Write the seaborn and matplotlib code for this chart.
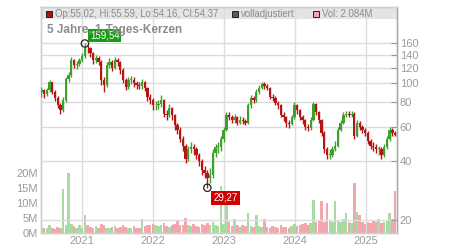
import numpy as np
import pandas as pd
import matplotlib
matplotlib.use("Agg")
import matplotlib.pyplot as plt
import matplotlib.dates as mdates
from matplotlib.patches import Rectangle
from matplotlib.ticker import NullLocator, FixedLocator, FixedFormatter
import seaborn as sns

# ---------------- data (bi-weekly candles) ----------------
start_date = "2020-06-05"
first_open = 90.0
closes = [
    92, 88, 92, 101, 90, 84, 77, 73, 82, 105,
    110, 131, 124, 125, 131, 137, 152, 151, 143, 131,
    134, 129, 104, 98, 124, 128, 120, 132, 128, 117,
    104, 96, 104, 104, 100, 98, 97, 101, 95, 85,
    82, 77, 77, 78, 82, 70, 69, 75, 69, 61,
    58, 52, 48, 41, 46, 47, 46, 43, 40, 36,
    35, 33, 34, 44, 47, 47, 52, 58, 69, 67,
    65, 67, 63, 65, 64, 63, 77, 84, 82, 90,
    95, 99, 97, 95, 85, 84, 79, 77, 69, 67,
    63, 62, 67, 77, 73, 67, 65, 60, 59, 65,
    78, 71, 65, 56, 46, 43, 43, 46, 48, 58,
    63, 69, 70, 69, 70, 54, 63, 60, 58, 56,
    51, 48, 47, 46, 46, 43, 47, 52, 58, 56,
    54.37,
]
highs = [
    96, 94, 95, 104, 102, 92, 86, 79, 85, 108,
    114, 136, 133, 130, 135, 142, 159.54, 157, 154, 145,
    139, 137, 131, 108, 128, 134, 131, 136, 135, 130,
    119, 106, 108, 109, 107, 103, 101, 105, 103, 96,
    88, 84, 81, 82, 87, 83, 73, 78, 76, 70,
    63, 60, 54, 49, 48, 50, 49, 47, 44, 41,
    38, 36, 37, 46, 49, 50, 54, 60, 71, 71,
    69, 70, 68, 68, 67, 66, 79, 87, 86, 93,
    98, 102, 101, 99, 96, 88, 86, 81, 78, 71,
    68, 65, 69, 80, 78, 74, 69, 66, 62, 67,
    80, 79, 72, 66, 57, 47, 46, 48, 51, 60,
    65, 71, 72, 72, 72, 71, 65, 64, 61, 59,
    57, 52, 50, 49, 48, 47, 49, 54, 60, 59,
    57,
]
lows = [
    85, 84, 86, 90, 88, 81, 75, 70, 71, 80,
    102, 108, 119, 118, 122, 128, 134, 143, 136, 125,
    127, 124, 98, 90, 96, 120, 116, 118, 122, 112,
    100, 92, 94, 99, 96, 94, 93, 94, 91, 81,
    78, 73, 73, 74, 76, 67, 65, 67, 65, 58,
    55, 50, 45, 39, 40, 44, 43, 41, 38, 34,
    33, 29.27, 31, 33, 42, 44, 45, 50, 57, 65,
    63, 63, 61, 62, 62, 61, 62, 75, 79, 80,
    88, 93, 94, 92, 83, 81, 77, 74, 67, 64,
    60, 59, 61, 66, 70, 65, 62, 58, 57, 58,
    64, 69, 63, 54, 44, 41, 41, 42, 45, 47,
    57, 62, 67, 67, 67, 52, 53, 58, 56, 54,
    49, 46, 45, 44, 43, 41, 42, 46, 51, 54,
    53.5,
]
volumes_m = [
    2.0, 1.5, 1.8, 2.5, 1.6, 1.4, 2.0, 1.8, 14.5, 2.5,
    20.0, 3.0, 2.2, 1.8, 2.5, 1.6, 6.0, 2.8, 2.0, 1.7,
    2.2, 1.5, 3.0, 2.6, 1.8, 1.5, 2.0, 2.4, 1.6, 1.9,
    2.5, 2.0, 1.7, 1.5, 2.2, 1.8, 1.6, 4.7, 2.3, 2.6,
    2.8, 3.0, 2.5, 2.2, 2.7, 3.2, 2.4, 2.0, 2.6, 3.0,
    4.0, 2.5, 2.8, 5.0, 2.6, 2.2, 2.9, 2.4, 2.0, 3.0,
    2.5, 3.2, 2.8, 3.5, 2.6, 2.4, 15.5, 3.0, 12.0, 3.5,
    2.4, 4.5, 2.8, 2.0, 2.5, 2.2, 6.5, 2.4, 2.0, 6.0,
    2.3, 1.9, 4.5, 2.0, 1.8, 2.2, 2.0, 1.7, 2.5, 2.1,
    2.0, 1.8, 2.4, 3.0, 2.2, 2.6, 3.0, 3.4, 2.8, 3.2,
    11.0, 3.5, 4.0, 10.5, 3.6, 10.0, 4.2, 3.8, 10.5, 4.0,
    3.5, 4.5, 6.5, 3.8, 3.2, 16.7, 7.0, 6.0, 3.5, 3.0,
    3.8, 3.2, 4.0, 3.5, 4.5, 3.2, 3.8, 4.0, 6.5, 4.5,
    14.0,
]
high_point = ("2021-01-15", 159.54, "159,54")
low_point = ("2022-10-07", 29.27, "29,27")
price_ticks = [20, 40, 60, 80, 100, 120, 140, 160]
vol_ticks = [0, 5, 10, 15, 20]
title = "5 Jahre, 1-Tages-Kerzen"
legend_items = ["Op:55.02, Hi:55.59, Lo:54.16, Cl:54.37", "volladjustiert", "Vol: 2.084M"]

# ---------------- frame ----------------
dates = pd.date_range(start_date, periods=len(closes), freq="14D")
opens = [first_open] + closes[:-1]
df = pd.DataFrame({"date": dates, "open": opens, "close": closes,
                   "high": highs, "low": lows, "vol": volumes_m})
df["up"] = df["close"] >= df["open"]
df["lo"] = df[["open", "close"]].min(axis=1)
df["hi"] = df[["open", "close"]].max(axis=1)

sns.set_theme(style="white")
plt.rcParams["font.family"] = ["Liberation Sans", "DejaVu Sans"]

W, H = 450, 250
fig = plt.figure(figsize=(W / 100, H / 100), dpi=100)
ax = fig.add_axes([41 / W, 17 / H, 356 / W, 226 / H])
ax.set_facecolor("white")

GREEN = "#3f9f2c"
RED = "#b81414"
VGREEN = "#a8dba0"
VRED = "#f2a6ad"
GRID = "#dcdcdc"
TXT = "#9a9a9a"

# header band
ax.add_patch(Rectangle((0, (233 - 19) / 226), 1, 1 - (233 - 19) / 226, transform=ax.transAxes,
                       fc="#e4e4e4", ec="none", zorder=0.1))

# volume bars
vcol = [VGREEN if u else VRED for u in df["up"]]
ax.bar(df["date"], df["vol"], width=pd.Timedelta(days=13), color=vcol, linewidth=0, zorder=1)
ax.set_ylim(0, 75.3)
ax.yaxis.set_major_locator(FixedLocator(vol_ticks))
ax.yaxis.set_major_formatter(FixedFormatter([f"{v}M" for v in vol_ticks]))
ax.tick_params(axis="y", length=0, labelcolor=TXT, labelsize=8, pad=2.5)

ax.set_xlim(pd.Timestamp("2020-06-03"), pd.Timestamp("2025-06-09"))
ax.xaxis.set_major_locator(mdates.YearLocator())
ax.xaxis.set_major_formatter(mdates.DateFormatter("%Y"))
ax.tick_params(axis="x", length=0, labelcolor=TXT, labelsize=8, pad=2.5)
ax.grid(axis="x", color=GRID, lw=1)
ax.set_axisbelow(True)

# price candles
ax2 = ax.twinx()
ax2.set_yscale("log")
ax2.set_ylim(17.2, 245)
ax2.grid(axis="y", color=GRID, lw=1, zorder=0)
ax2.set_axisbelow(True)
ccol = [GREEN if u else RED for u in df["up"]]
ax2.vlines(df["date"], df["low"], df["high"], colors=ccol, lw=1.0, zorder=3)
heights = (df["hi"] - df["lo"]).clip(lower=0.6)
ax2.bar(df["date"], heights, bottom=df["lo"], width=pd.Timedelta(days=12), color=ccol,
        linewidth=0, zorder=3)

marks = pd.DataFrame({"date": [pd.Timestamp(high_point[0]), pd.Timestamp(low_point[0])],
                      "price": [high_point[1], low_point[1]]})
sns.scatterplot(data=marks, x="date", y="price", ax=ax2, s=28, marker="o",
                facecolor="none", edgecolor="#222222", linewidth=0.9, zorder=5)

ax2.annotate(high_point[2], xy=(pd.Timestamp(high_point[0]), high_point[1]), xytext=(5, 8),
             textcoords="offset pixels", ha="left", va="center", color="white", fontsize=7,
             bbox=dict(boxstyle="square,pad=0.2", fc="#12a012", ec="none"), zorder=6)
ax2.annotate(low_point[2], xy=(pd.Timestamp(low_point[0]), low_point[1]), xytext=(6, -10),
             textcoords="offset pixels", ha="left", va="center", color="white", fontsize=7,
             bbox=dict(boxstyle="square,pad=0.2", fc="#d40000", ec="none"), zorder=6)

ax2.yaxis.set_major_locator(FixedLocator(price_ticks))
ax2.yaxis.set_major_formatter(FixedFormatter([str(t) for t in price_ticks]))
ax2.yaxis.set_minor_locator(NullLocator())
ax2.tick_params(axis="y", which="major", direction="in", length=4, width=0.8, color="#9a9a9a",
                labelcolor=TXT, labelsize=8, pad=2)
ax2.set_ylabel("")
ax2.set_xlabel("")
ax.set_xlabel("")
ax.set_ylabel("")

for a in (ax, ax2):
    for s in a.spines.values():
        s.set_color("#cfcfcf")
        s.set_linewidth(1)
ax2.spines["right"].set_color("#a8a8a8")

# title and header legend
fig.text(47 / W, 1 - 29.5 / H, title, ha="left", va="center", fontsize=8.5, fontweight="bold", color="#8c8c8c")
legend_pos = [(46, "#b01010"), (232, "#5a5a5a"), (313, "#f2a6ad")]
for (x0, fc), lab in zip(legend_pos, legend_items):
    fig.add_artist(Rectangle((x0 / W, 1 - 17 / H), 6 / W, 6 / H, transform=fig.transFigure,
                             fc=fc, ec="#222222", lw=0.7))
    fig.text((x0 + 9) / W, 1 - 14 / H, lab, ha="left", va="center", fontsize=6.9, color="#8c8c8c")

fig.savefig("out.png", dpi=100)
